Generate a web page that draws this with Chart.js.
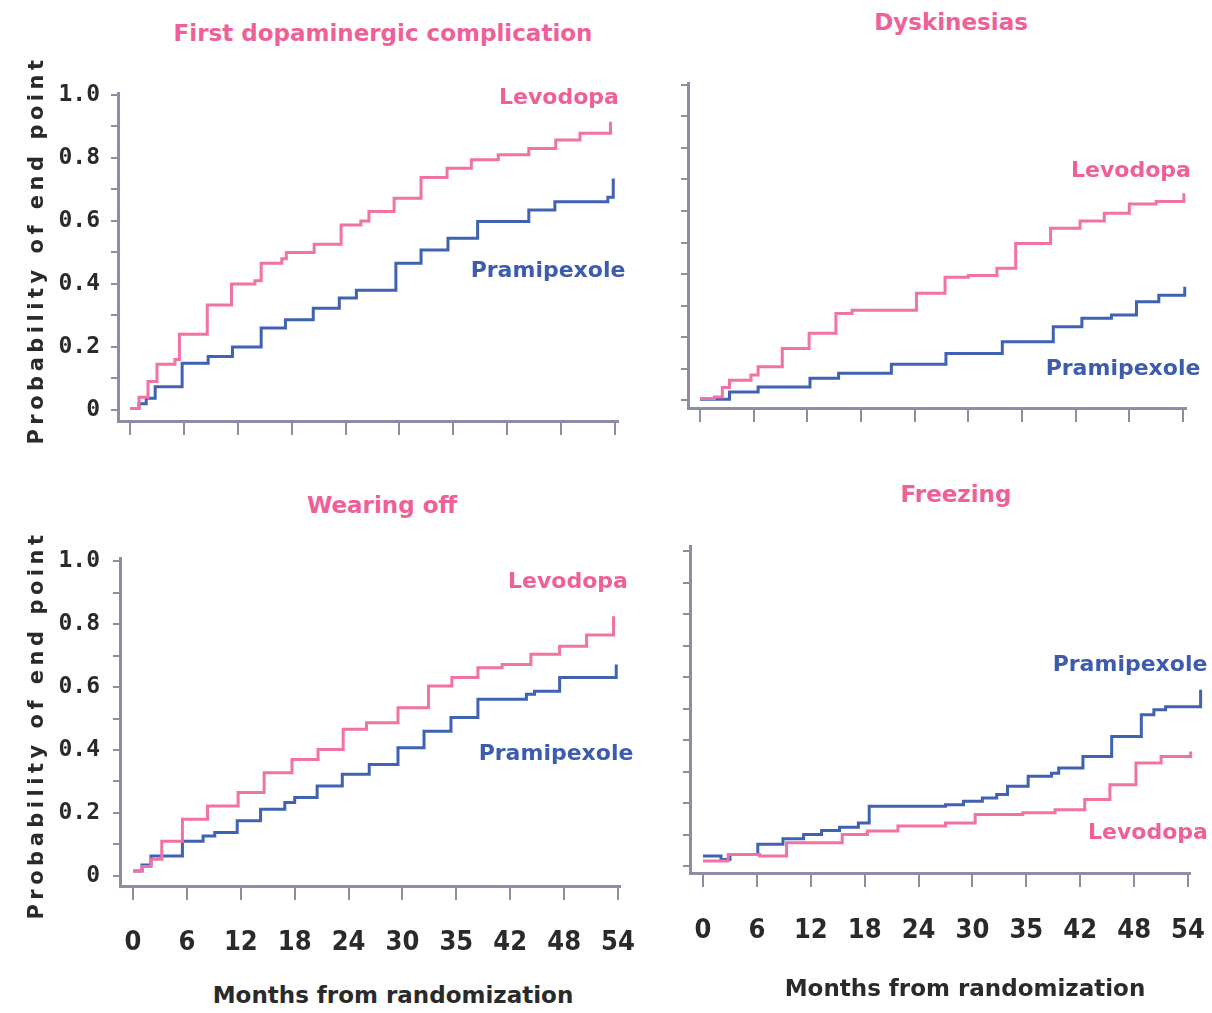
<!DOCTYPE html>
<html>
<head>
<meta charset="utf-8">
<script src="https://cdn.jsdelivr.net/npm/chart.js@4.4.1/dist/chart.umd.min.js"></script>
<style>
  body { margin: 0; background: #fff; }
  #fig { position: relative; width: 1212px; height: 1013px; overflow: hidden; background: #fff; }
  #fig canvas { position: absolute; }
  .txt {
    position: absolute;
    font-family: "DejaVu Sans", Verdana, sans-serif;
    font-weight: bold;
    white-space: nowrap;
    transform: translate(-50%, -50%);
    line-height: 1;
  }
  .title { font-size: 23px; color: #ef5f98; }
  .levo { font-size: 22px; color: #ef5f98; }
  .prami { font-size: 22px; color: #3d5cad; }
  .ytitle { font-size: 21px; color: #2a2a2a; letter-spacing: 4.5px; transform: translate(-50%, -50%) rotate(-90deg); }
  .xtitle { font-size: 23px; color: #2a2a2a; }
</style>
</head>
<body>
<div id="fig">
  <canvas id="c-first" width="640" height="400" style="left:0px; top:60px;"></canvas>
  <canvas id="c-dysk" width="572" height="400" style="left:640px; top:60px;"></canvas>
  <canvas id="c-wear" width="640" height="450" style="left:0px; top:530px;"></canvas>
  <canvas id="c-freeze" width="572" height="450" style="left:640px; top:530px;"></canvas>

  <div class="txt title" style="left:383px; top:33px;">First dopaminergic complication</div>
  <div class="txt title" style="left:951px; top:22px;">Dyskinesias</div>
  <div class="txt title" style="left:382px; top:505px;">Wearing off</div>
  <div class="txt title" style="left:956px; top:494px;">Freezing</div>

  <div class="txt levo" style="left:559px; top:97px;">Levodopa</div>
  <div class="txt prami" style="left:548px; top:270px;">Pramipexole</div>
  <div class="txt levo" style="left:1131px; top:170px;">Levodopa</div>
  <div class="txt prami" style="left:1123px; top:368px;">Pramipexole</div>
  <div class="txt levo" style="left:568px; top:581px;">Levodopa</div>
  <div class="txt prami" style="left:556px; top:753px;">Pramipexole</div>
  <div class="txt prami" style="left:1130px; top:664px;">Pramipexole</div>
  <div class="txt levo" style="left:1148px; top:832px;">Levodopa</div>

  <div class="txt ytitle" style="left:36px; top:250px;">Probability of end point</div>
  <div class="txt ytitle" style="left:36px; top:725px;">Probability of end point</div>
  <div class="txt xtitle" style="left:393px; top:995px;">Months from randomization</div>
  <div class="txt xtitle" style="left:965px; top:988px;">Months from randomization</div>
</div>

<script>
// x axis: months from randomization (the 36-month tick is printed as "35")
const monthTicks = [0, 6, 12, 18, 24, 30, 36, 42, 48, 54];
const monthLabels = ['0', '6', '12', '18', '24', '30', '35', '42', '48', '54'];

// y axis: probability of end point
const probTicks = [0, 0.1, 0.2, 0.3, 0.4, 0.5, 0.6, 0.7, 0.8, 0.9, 1.0];
const probLabels = ['0', '', '0.2', '', '0.4', '', '0.6', '', '0.8', '', '1.0'];

// Each curve: month at which the level changes, and the new level from then on

// First dopaminergic complication
const firstLevoMonths = [0, 1, 2, 3, 5, 5.5, 8.6, 11.3, 13.9, 14.6, 16.9, 17.4, 20.5, 23.5, 25.7, 26.6, 29.4, 32.4, 35.3, 38, 41, 44.4, 47.4, 50.1, 53.5];
const firstLevoProb   = [0.005, 0.04, 0.09, 0.145, 0.16, 0.24, 0.333, 0.40, 0.41, 0.466, 0.48, 0.50, 0.526, 0.587, 0.60, 0.63, 0.672, 0.738, 0.767, 0.794, 0.81, 0.83, 0.857, 0.878, 0.915];
const firstPramiMonths = [0, 1, 1.8, 2.8, 5.8, 8.7, 11.4, 14.6, 17.3, 20.4, 23.3, 25.2, 29.6, 32.4, 35.4, 38.7, 44.4, 47.3, 53.2, 53.8];
const firstPramiProb   = [0.005, 0.02, 0.037, 0.074, 0.148, 0.17, 0.20, 0.26, 0.286, 0.323, 0.355, 0.38, 0.466, 0.508, 0.545, 0.598, 0.635, 0.661, 0.675, 0.735];

// Dyskinesias
const dyskLevoMonths = [0, 1.6, 2.5, 3.3, 5.7, 6.5, 9.2, 12.2, 15.2, 17, 24.2, 27.4, 30, 33.2, 35.3, 39.2, 42.5, 45.2, 48, 51, 54.1];
const dyskLevoProb   = [0.005, 0.01, 0.04, 0.063, 0.08, 0.106, 0.164, 0.212, 0.275, 0.285, 0.339, 0.39, 0.395, 0.418, 0.497, 0.545, 0.568, 0.593, 0.622, 0.63, 0.656];
const dyskPramiMonths = [0, 3.3, 6.5, 12.3, 15.5, 21.4, 27.5, 33.8, 39.5, 42.7, 46, 48.8, 51.3, 54.2];
const dyskPramiProb   = [0.003, 0.026, 0.042, 0.069, 0.085, 0.114, 0.148, 0.185, 0.233, 0.26, 0.27, 0.312, 0.333, 0.36];

// Wearing off
const wearLevoMonths = [0, 1, 2, 3.2, 5.5, 8.3, 11.7, 14.6, 17.7, 20.6, 23.4, 26, 29.5, 32.9, 35.5, 38.4, 41.1, 44.3, 47.5, 50.5, 53.5];
const wearLevoProb   = [0.016, 0.03, 0.053, 0.11, 0.18, 0.222, 0.265, 0.328, 0.37, 0.402, 0.466, 0.487, 0.534, 0.603, 0.63, 0.661, 0.672, 0.704, 0.73, 0.765, 0.825];
const wearPramiMonths = [0, 1, 2, 5.5, 7.8, 9.1, 11.6, 14.2, 16.9, 18, 20.5, 23.3, 26.3, 29.5, 32.4, 35.4, 38.4, 43.8, 44.7, 47.5, 53.8];
const wearPramiProb   = [0.016, 0.035, 0.063, 0.11, 0.127, 0.138, 0.175, 0.212, 0.233, 0.249, 0.286, 0.323, 0.354, 0.407, 0.46, 0.503, 0.561, 0.577, 0.587, 0.63, 0.672];

// Freezing
const freezeLevoMonths = [0, 2.8, 6.3, 9.3, 15.5, 18.3, 21.7, 27, 30.3, 35.6, 39.2, 42.5, 45.3, 48.2, 51, 54.3];
const freezeLevoProb   = [0.016, 0.037, 0.032, 0.074, 0.10, 0.111, 0.127, 0.137, 0.164, 0.169, 0.179, 0.211, 0.258, 0.327, 0.348, 0.364];
const freezePramiMonths = [0, 2, 3, 6.1, 8.9, 11.2, 13.2, 15.2, 17.3, 18.5, 27, 29, 31.1, 32.7, 33.9, 36.2, 38.8, 39.6, 42.3, 45.5, 48.8, 50.2, 51.5, 55.4, 56.2];
const freezePramiProb   = [0.032, 0.021, 0.037, 0.069, 0.087, 0.10, 0.113, 0.123, 0.137, 0.19, 0.195, 0.206, 0.216, 0.227, 0.253, 0.285, 0.295, 0.311, 0.348, 0.411, 0.48, 0.496, 0.506, 0.56, 0.55];

const levoColor = '#f172a4';
const pramiColor = '#3f62b2';
const axisColor = '#8d8da6';
const tickFontX = { family: '"Liberation Sans Narrow", "DejaVu Sans Condensed", sans-serif', size: 27, weight: 'bold' };
const tickFontY = { family: '"DejaVu Sans Mono", "Liberation Mono", monospace', size: 23, weight: 'bold' };

function toPoints(months, probs) {
    return months.map((m, i) => ({ x: m, y: probs[i] }));
}

function curve(months, probs, color) {
    return {
        data: toPoints(months, probs),
        borderColor: color,
        borderWidth: 3,
        // hold each level until the next change
        stepped: true,
        pointRadius: 0,
        fill: false,
        clip: false
    };
}

// frame: scale widths/heights and padding fix where the axes sit inside each canvas
function makePanel(canvasId, levo, prami, frame) {
    new Chart(document.getElementById(canvasId), {
        type: 'line',
        data: {
            datasets: [curve(levo[0], levo[1], levoColor), curve(prami[0], prami[1], pramiColor)]
        },
        options: {
            responsive: false,
            animation: false,
            events: [],
            layout: { padding: { left: 0, top: frame.padTop, right: frame.padRight, bottom: 0 } },
            plugins: { legend: { display: false }, tooltip: { enabled: false } },
            scales: {
                x: {
                    type: 'linear',
                    min: frame.xMin,
                    max: frame.xMax,
                    border: { display: true, color: axisColor, width: 3 },
                    grid: { drawOnChartArea: false, drawTicks: true, tickLength: 14, color: axisColor, lineWidth: 2 },
                    afterBuildTicks: (scale) => { scale.ticks = monthTicks.map(v => ({ value: v })); },
                    ticks: {
                        display: frame.xLabels,
                        autoSkip: false,
                        maxRotation: 0,
                        padding: frame.xPad || 0,
                        color: '#2a2a2a',
                        font: tickFontX,
                        callback: (value) => monthLabels[monthTicks.indexOf(value)]
                    },
                    afterFit: (scale) => {
                        scale.height = frame.xHeight;
                        scale.paddingLeft = 0;
                        scale.paddingRight = 0;
                    }
                },
                y: {
                    type: 'linear',
                    min: frame.yMin,
                    max: frame.yMax,
                    border: { display: true, color: axisColor, width: 3 },
                    grid: { drawOnChartArea: false, drawTicks: true, tickLength: 7, color: axisColor, lineWidth: 2 },
                    afterBuildTicks: (scale) => { scale.ticks = probTicks.map(v => ({ value: v })); },
                    ticks: {
                        display: frame.yLabels,
                        padding: frame.yPad || 0,
                        color: '#2a2a2a',
                        font: tickFontY,
                        callback: (value) => probLabels[probTicks.indexOf(value)]
                    },
                    afterFit: (scale) => {
                        scale.width = frame.yWidth;
                        scale.paddingTop = 0;
                        scale.paddingBottom = 0;
                    }
                }
            }
        }
    });
}

makePanel('c-first', [firstLevoMonths, firstLevoProb], [firstPramiMonths, firstPramiProb], {
    yWidth: 118, xHeight: 39, padTop: 33, padRight: 22,
    xMin: -1.34, xMax: 54.33, yMin: -0.035, yMax: 1.006,
    xLabels: false, yLabels: true, yPad: 11
});

makePanel('c-dysk', [dyskLevoMonths, dyskLevoProb], [dyskPramiMonths, dyskPramiProb], {
    yWidth: 48, xHeight: 52, padTop: 23, padRight: 26,
    xMin: -1.34, xMax: 54.34, yMin: -0.025, yMax: 1.006,
    xLabels: false, yLabels: false
});

makePanel('c-wear', [wearLevoMonths, wearLevoProb], [wearPramiMonths, wearPramiProb], {
    yWidth: 120, xHeight: 94, padTop: 28, padRight: 20,
    xMin: -1.45, xMax: 54.22, yMin: -0.032, yMax: 1.01,
    xLabels: true, yLabels: true, xPad: 27, yPad: 13
});

makePanel('c-freeze', [freezeLevoMonths, freezeLevoProb], [freezePramiMonths, freezePramiProb], {
    yWidth: 50, xHeight: 107, padTop: 16, padRight: 22,
    xMin: -1.45, xMax: 54.22, yMin: -0.022, yMax: 1.016,
    xLabels: true, yLabels: false, xPad: 28
});
</script>
</body>
</html>
